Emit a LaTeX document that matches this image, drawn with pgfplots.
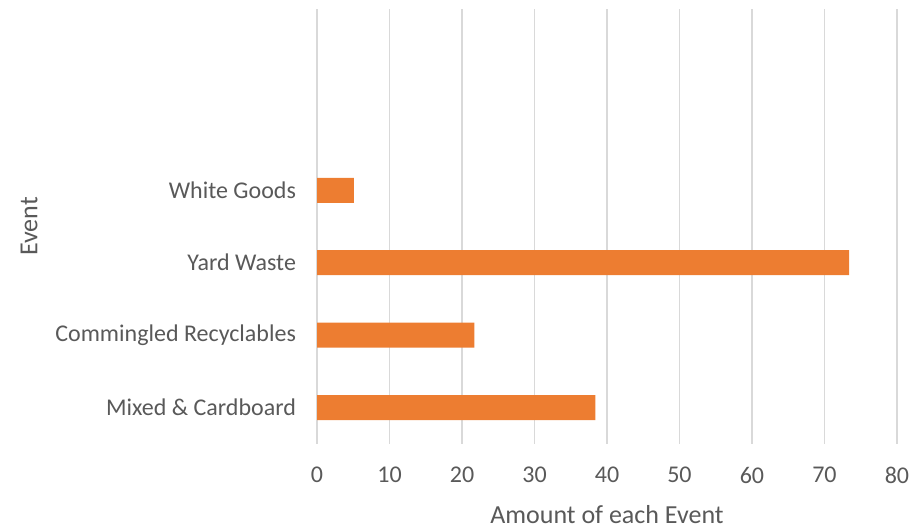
\documentclass[border=0pt]{standalone}
\usepackage{pgfplots}
\pgfplotsset{compat=1.18}
\usepackage{fontspec}
\setmainfont{Carlito}
\definecolor{txtc}{HTML}{595959}
\definecolor{gridc}{HTML}{D9D9D9}
\definecolor{barc}{HTML}{ED7D31}
\begin{document}
\begin{tikzpicture}
\path[use as bounding box] (0,0) rectangle (460pt,264.5pt);
\begin{axis}[
  at={(158.5pt,42.5pt)}, anchor=south west,
  scale only axis, width=290pt, height=217.5pt,
  xbar, bar width=12.5pt,
  xmin=0, xmax=80, xtick={0,10,...,80},
  ymin=-0.5, ymax=5.5, ytick={0,1,2,3},
  yticklabels={Mixed \& Cardboard, Commingled Recyclables, Yard Waste, White Goods},
  axis line style={draw=none},
  major tick length=0pt,
  xmajorgrids=true, ymajorgrids=false,
  major grid style={draw=gridc, line width=0.9pt},
  ticklabel style={font=\fontsize{12}{14}\selectfont, text=txtc},
  /pgf/number format/assume math mode=true,
  xticklabel style={yshift=-8pt},
  yticklabel style={xshift=-7pt},
  xlabel={Amount of each Event}, ylabel={Event},
  label style={font=\fontsize{13}{15}\selectfont, text=txtc},
  xlabel style={yshift=-4pt},
  ylabel style={yshift=2pt},
]
\addplot[fill=barc, draw=none] coordinates {(38.4,0) (21.7,1) (73.4,2) (5.1,3)};
\end{axis}
\end{tikzpicture}
\end{document}
